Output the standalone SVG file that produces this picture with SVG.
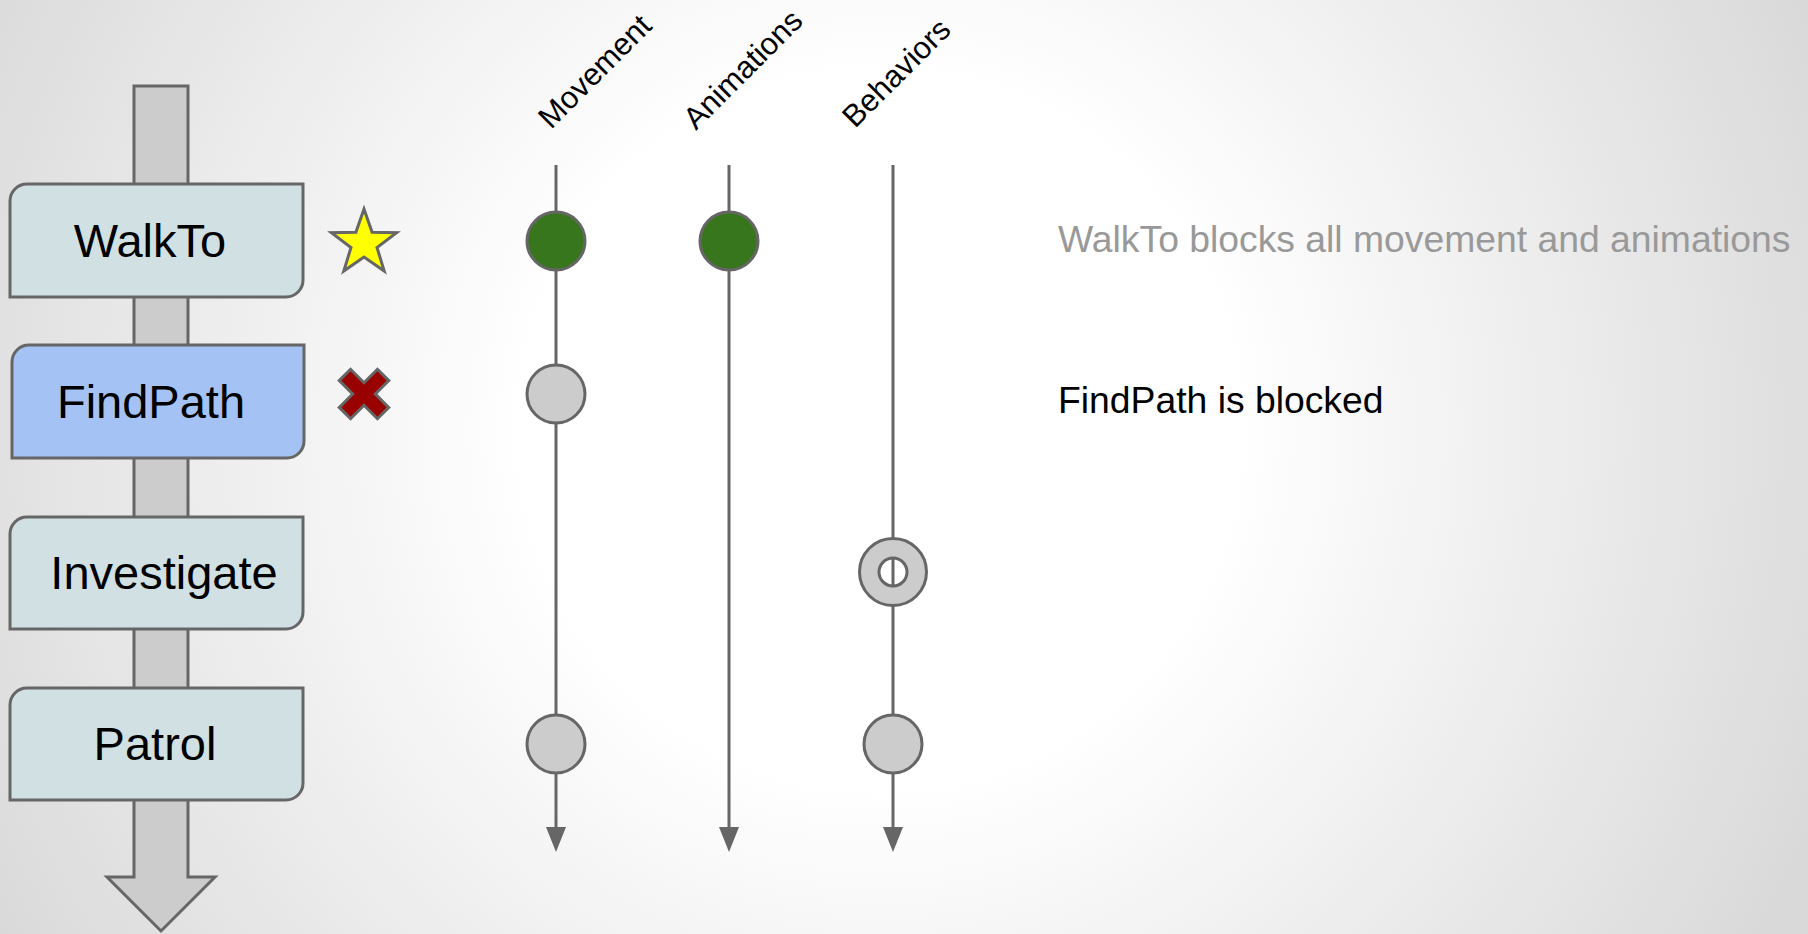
<svg xmlns="http://www.w3.org/2000/svg" width="1808" height="934" viewBox="0 0 1808 934">
<defs>
<radialGradient id="bg" gradientUnits="userSpaceOnUse" cx="880" cy="430" r="1020">
<stop offset="0" stop-color="#ffffff"/>
<stop offset="0.35" stop-color="#ffffff"/>
<stop offset="1" stop-color="#d9d9d9"/>
</radialGradient>
<marker id="arr" viewBox="0 0 25 20" markerWidth="25" markerHeight="20" refX="0" refY="10" orient="auto" markerUnits="userSpaceOnUse">
<path d="M0,0 L25,10 L0,20 Z" fill="#666666"/>
</marker>
<style>
.box{stroke:#666666;stroke-width:3}
.lbl{font-family:"Liberation Sans",Arial,sans-serif;font-size:47px;fill:#000000;text-anchor:middle}
.col{font-family:"Liberation Sans",Arial,sans-serif;font-size:31px;fill:#000000}
.note{font-family:"Liberation Sans",Arial,sans-serif;font-size:37.3px}
.line{stroke:#666666;stroke-width:3;fill:none}
.dot{stroke:#666666;stroke-width:3}
</style>
</defs>
<rect width="1808" height="934" fill="url(#bg)"/>

<g id="flow-arrow">
<polygon points="134,86 188,86 188,877 215,877 161,931 107,877 134,877" fill="#cccccc" stroke="#666666" stroke-width="3" stroke-linejoin="miter"/>
</g>

<g id="node-walkto">
<path class="box" fill="#d0e0e3" d="M27,184 H303 V280 A17,17 0 0 1 286,297 H10 V201 A17,17 0 0 1 27,184 Z"/>
<text class="lbl" x="150" y="257">WalkTo</text>
</g>
<g id="node-findpath">
<path class="box" fill="#a4c2f4" d="M29,345 H304 V441 A17,17 0 0 1 287,458 H12 V362 A17,17 0 0 1 29,345 Z"/>
<text class="lbl" x="151" y="418">FindPath</text>
</g>
<g id="node-investigate">
<path class="box" fill="#d0e0e3" d="M27,517 H303 V612 A17,17 0 0 1 286,629 H10 V534 A17,17 0 0 1 27,517 Z"/>
<text class="lbl" x="164" y="589">Investigate</text>
</g>
<g id="node-patrol">
<path class="box" fill="#d0e0e3" d="M27,688 H303 V783 A17,17 0 0 1 286,800 H10 V705 A17,17 0 0 1 27,688 Z"/>
<text class="lbl" x="155" y="760">Patrol</text>
</g>

<g id="star">
<polygon points="364,209 372.1,232.2 396.6,232.7 377.0,247.5 384.2,271.0 364,257.0 343.8,271.0 351.0,247.5 331.4,232.7 355.9,232.2" fill="#ffff00" stroke="#666666" stroke-width="3" stroke-linejoin="miter"/>
</g>
<g id="cross">
<polygon transform="translate(364,394) rotate(45)" points="-8,-27 8,-27 8,-8 27,-8 27,8 8,8 8,27 -8,27 -8,8 -27,8 -27,-8 -8,-8" fill="#990000" stroke="#666666" stroke-width="3"/>
</g>

<g id="column-labels">
<text class="col" transform="translate(551,130) rotate(-45)">Movement</text>
<text class="col" transform="translate(696,131) rotate(-45)">Animations</text>
<text class="col" transform="translate(855,129) rotate(-45)">Behaviors</text>
</g>

<g id="connectors">
<line class="line" x1="556" y1="165" x2="556" y2="827" marker-end="url(#arr)"/>
<line class="line" x1="729" y1="165" x2="729" y2="827" marker-end="url(#arr)"/>
<line class="line" x1="893" y1="165" x2="893" y2="827" marker-end="url(#arr)"/>
</g>

<g id="markers">
<circle class="dot" cx="556" cy="241" r="29" fill="#38761d"/>
<circle class="dot" cx="729" cy="241" r="29" fill="#38761d"/>
<circle class="dot" cx="556" cy="394" r="29" fill="#cccccc"/>
<path class="dot" fill="#cccccc" fill-rule="evenodd" d="M859.5,572 a33.5,33.5 0 1,0 67,0 a33.5,33.5 0 1,0 -67,0 Z M879,572 a14,14 0 1,0 28,0 a14,14 0 1,0 -28,0 Z"/>
<circle class="dot" cx="556" cy="744" r="29" fill="#cccccc"/>
<circle class="dot" cx="893" cy="744" r="29" fill="#cccccc"/>
</g>

<g id="notes">
<text class="note" x="1058" y="252" fill="#999999">WalkTo blocks all movement and animations</text>
<text class="note" x="1058" y="413" fill="#000000">FindPath is blocked</text>
</g>
</svg>
